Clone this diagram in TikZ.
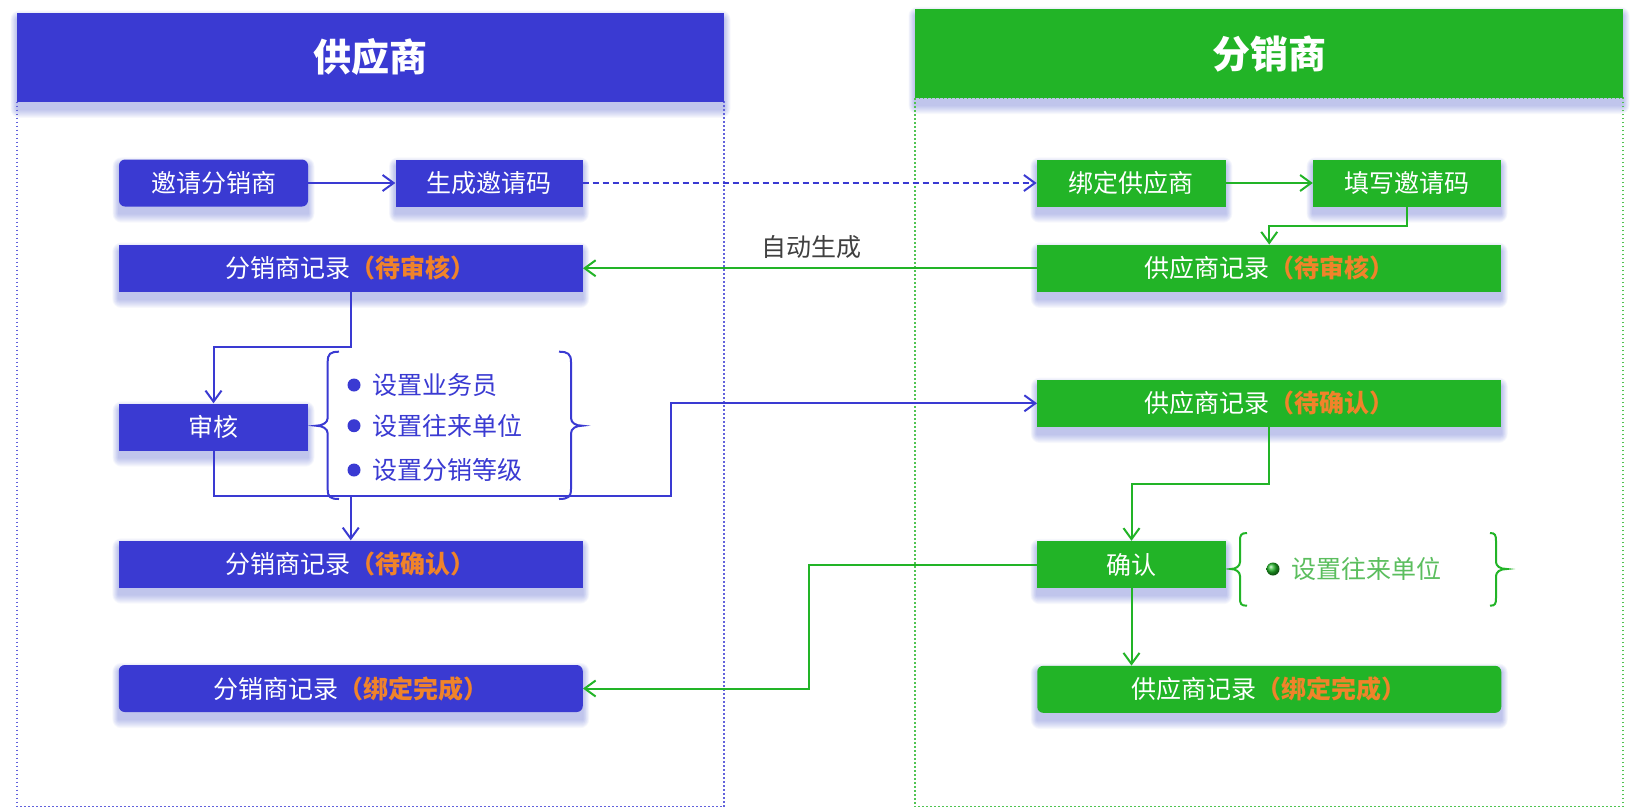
\documentclass[tikz,border=0pt]{standalone}
\usepackage{fontspec}
\setmainfont{Noto Sans CJK SC}
\usetikzlibrary{arrows.meta,backgrounds}
\definecolor{cblue}{HTML}{3A3AD2}
\definecolor{cgreen}{HTML}{22B427}
\definecolor{corange}{HTML}{F0832A}
\definecolor{cshadow}{HTML}{4A5CD0}
\definecolor{cgray}{HTML}{404040}
\definecolor{dotblue}{HTML}{6262DC}
\definecolor{dotgreen}{HTML}{50C453}
\definecolor{lgreen}{HTML}{5BBE5E}
\pgfdeclarelayer{bg}
\pgfsetlayers{bg,background,main}
\newcommand{\stat}[1]{{\color{corange}\bfseries （#1）}}
\tikzset{
  base/.style={rectangle, inner sep=0pt, minimum height=47pt, text=white, font=\fontsize{25}{29}\selectfont},
  bluebox/.style={base, fill=cblue},
  greenbox/.style={base, fill=cgreen},
  smallbox/.style={minimum width=189pt},
  widebox/.style={minimum width=464pt},
  header/.style={rectangle, inner sep=0pt, minimum width=707pt, minimum height=89pt, text=white, font=\fontsize{38}{44}\selectfont\bfseries},
  bline/.style={draw=cblue, line width=2pt},
  gline/.style={draw=cgreen, line width=2pt},
  arr/.style={-{Straight Barb[length=11pt,width=16pt]}},
  itemtext/.style={anchor=west, inner sep=0pt, font=\fontsize{25}{29}\selectfont},
  container/.style={line width=1.5pt, dash pattern=on 1.5pt off 2.5pt},
}
\begin{document}
\begin{tikzpicture}[x=1pt,y=-1pt]
\useasboundingbox (0,0) rectangle (1641,809);
\begin{pgfonlayer}{bg}
\fill[white] (0,0) rectangle (1641,809);
\end{pgfonlayer}

% containers
\draw[container, draw=dotblue] (17,101.7) rectangle (724,806.7);
\draw[container, draw=dotgreen] (915,98) rectangle (1623,806.7);

% headers
\node[header, fill=cblue] (hl) at (370.5,57.2) {供应商};
\node[header, fill=cgreen, minimum width=708pt] (hr) at (1269,53.5) {分销商};

% left nodes
\node[bluebox, smallbox, rounded corners=6pt] (inv) at (213.5,183) {邀请分销商};
\node[bluebox, minimum width=187pt] (gen) at (489,183) {生成邀请码};
\node[bluebox, widebox] (recL1) at (350.75,268.25) {分销商记录\stat{待审核}};
\node[bluebox, smallbox] (audit) at (213.5,427) {审核};
\node[bluebox, widebox] (recL2) at (350.75,564) {分销商记录\stat{待确认}};
\node[bluebox, widebox, rounded corners=6pt] (recL3) at (350.75,688.5) {分销商记录\stat{绑定完成}};

% right nodes
\node[greenbox, smallbox] (bind) at (1131.3,183) {绑定供应商};
\node[greenbox, minimum width=188pt] (fillc) at (1407,183) {填写邀请码};
\node[greenbox, widebox] (recR1) at (1269.25,268.25) {供应商记录\stat{待审核}};
\node[greenbox, widebox] (recR2) at (1269.25,403.3) {供应商记录\stat{待确认}};
\node[greenbox, smallbox] (confirm) at (1131.5,564.5) {确认};
\node[greenbox, widebox, rounded corners=6pt] (recR3) at (1269.25,689.3) {供应商记录\stat{绑定完成}};

% shadows
\begin{pgfonlayer}{background}
\foreach \n in {hl,hr,inv,gen,recL1,audit,recL2,recL3,bind,fillc,recR1,recR2,confirm,recR3}{
  \foreach \k in {1,...,9}{
    \fill[cshadow, opacity=0.045, rounded corners=\k pt]
      ([xshift={-0.7*\k*1pt}, yshift={(-7+\k)*1pt}]\n.north west) rectangle
      ([xshift={0.7*\k*1pt}, yshift={(-7-\k)*1pt}]\n.south east);
  }
}
\end{pgfonlayer}

% label
\node[font=\fontsize{25}{29}\selectfont, text=cgray, inner sep=0pt] (lbl) at (811,247) {自动生成};

% left brace and items
\draw[cblue, line width=2pt]
  (339,351.7) .. controls (330,351.7) and (327.7,354) .. (327.7,362)
  -- (327.7,418) .. controls (327.7,423) and (322,425.7) .. (316,425.7)
  .. controls (322,425.7) and (327.7,428.4) .. (327.7,433.4)
  -- (327.7,489) .. controls (327.7,497) and (330,499) .. (339,499);
\draw[cblue, line width=2pt]
  (559,351.7) .. controls (568,351.7) and (571,354) .. (571,362)
  -- (571,418) .. controls (571,423) and (576,425.7) .. (582,425.7)
  .. controls (576,425.7) and (571,428.4) .. (571,433.4)
  -- (571,489) .. controls (571,497) and (568,499) .. (559,499);
\fill[cblue] (354,385) circle (6.5);
\fill[cblue] (354,425.7) circle (6.5);
\fill[cblue] (354,470) circle (6.5);
\node[itemtext, text=cblue] (i1) at (372,385) {设置业务员};
\node[itemtext, text=cblue] (i2) at (372,425.7) {设置往来单位};
\node[itemtext, text=cblue] (i3) at (372,470) {设置分销等级};

% right brace and item
\draw[cgreen, line width=2pt]
  (1247,533) .. controls (1241,533) and (1240,535) .. (1240,541)
  -- (1240,562) .. controls (1240,566) and (1236,569) .. (1230.7,569)
  .. controls (1236,569) and (1240,572) .. (1240,576)
  -- (1240,598) .. controls (1240,604) and (1241,605.7) .. (1247,605.7);
\draw[cgreen, line width=2pt]
  (1490,533) .. controls (1495,533) and (1496,535) .. (1496,541)
  -- (1496,562) .. controls (1496,566) and (1500,569) .. (1506.7,569)
  .. controls (1500,569) and (1496,572) .. (1496,576)
  -- (1496,598) .. controls (1496,604) and (1495,605.7) .. (1490,605.7);
\shade[ball color=cgreen] (1273,569) circle (6.5);
\node[itemtext, text=lgreen] (i4) at (1291,569) {设置往来单位};

% connectors
\draw[bline, arr] (inv.east) -- (gen.west);
\draw[bline, arr, dash pattern=on 6pt off 4pt] (gen.east) -- (bind.west);
\draw[gline, arr] (bind.east) -- (fillc.west);
\draw[gline, arr] (fillc.south) -- ++(0,19.5) -| (recR1.north);
\draw[gline, arr] (recR1.west) -- (recL1.east);
\draw[bline, arr] (recL1.south) -- ++(0,55) -| (audit.north);
\coordinate (j1) at (recL2.north |- 0,495.7);
\draw[bline] (audit.south) |- (j1);
\draw[bline, arr] (j1) -- (recL2.north);
\draw[bline, arr] (j1) -- ++(320.25,0) |- (recR2.west);
\draw[gline, arr] (recR2.south) -- ++(0,57.2) -| (confirm.north);
\draw[gline, arr] (confirm.south) -- (confirm.south |- recR3.north);
\draw[gline, arr] (confirm.west) -- ++(-228,0) |- (recL3.east);
\end{tikzpicture}
\end{document}
